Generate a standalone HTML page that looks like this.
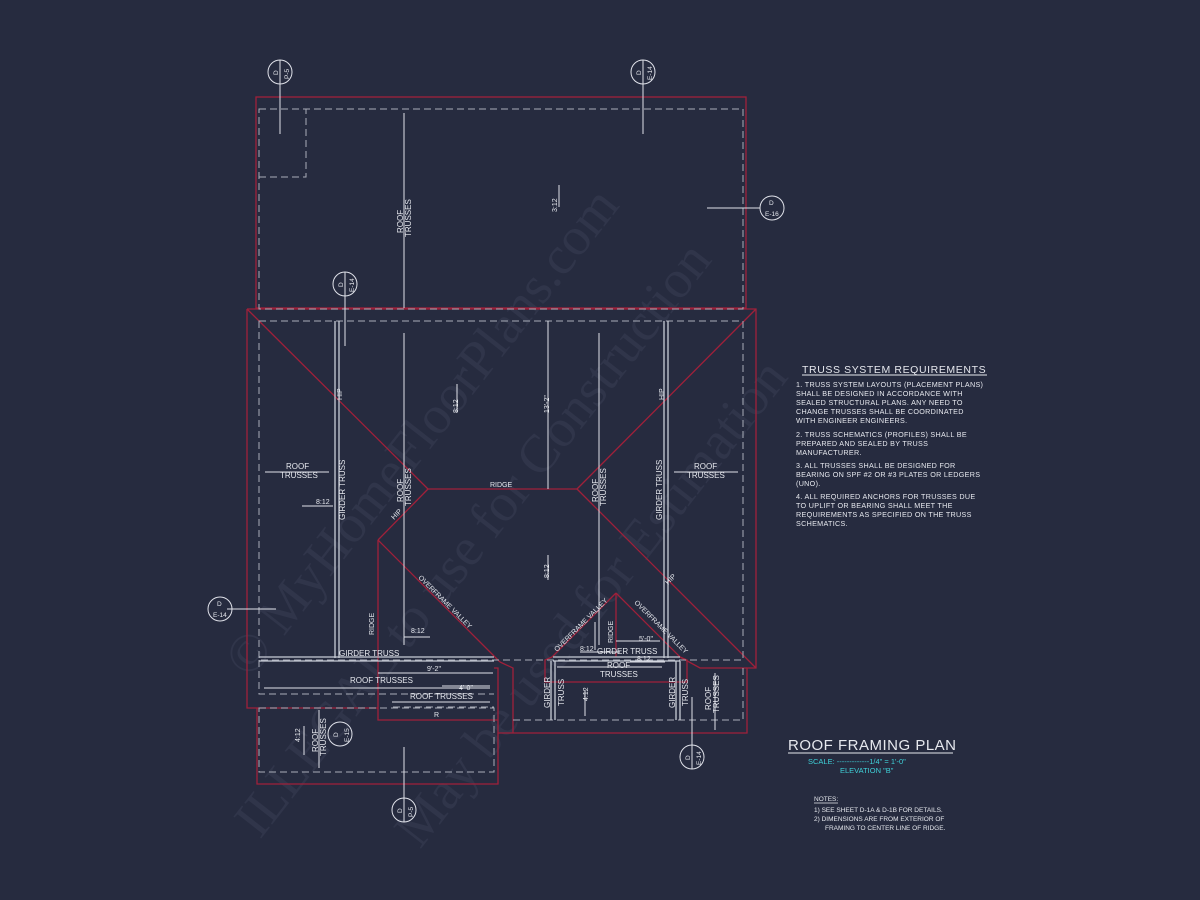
<!DOCTYPE html>
<html><head><meta charset="utf-8"><style>
html,body{margin:0;padding:0;background:#262b3f;}
svg{display:block}
text{font-family:"Liberation Sans",sans-serif;fill:#e6e8ee;}
</style></head><body>
<svg width="1200" height="900" viewBox="0 0 1200 900" xmlns="http://www.w3.org/2000/svg">
<rect width="1200" height="900" fill="#262b3f"/>

<!-- watermark -->
<g>
<text x="0" y="0" font-size="54" transform="translate(250,680) rotate(-52)" style="fill:#30354a;font-family:'Liberation Serif',serif">© MyHomeFloorPlans.com</text>
<text x="0" y="0" font-size="54" transform="translate(260,840) rotate(-52)" style="fill:#30354a;font-family:'Liberation Serif',serif">ILLEGAL to use for Construction</text>
<text x="0" y="0" font-size="54" transform="translate(420,850) rotate(-52)" style="fill:#30354a;font-family:'Liberation Serif',serif">May be used for Estimation</text>
</g>

<g fill="none" stroke-width="1.3">
<g stroke="#a0203a">
<rect x="256" y="97" width="490" height="211"/>
<polyline points="247,309 756,309 756,668 747,668 747,733 498,733 498,668 494,668"/>
<polyline points="247,309 247,708 378,708"/>
<polyline points="378,540 378,720 498,720"/>
<polyline points="257,708 257,784 498,784 498,733"/>
<line x1="247" y1="309" x2="428" y2="489"/>
<line x1="428" y1="489" x2="577" y2="489"/>
<line x1="577" y1="489" x2="756" y2="309"/>
<line x1="428" y1="489" x2="378" y2="540"/>
<line x1="378" y1="540" x2="500" y2="662"/>
<line x1="577" y1="489" x2="756" y2="668"/>
<polyline points="500,662 513,668 513,733"/>
<polyline points="616,593 552,657 545,660 545,682 687,682 687,660 680,657 616,593"/>
<line x1="616" y1="593" x2="616" y2="657"/>
<polyline points="680,657 700,668 747,668"/>
</g>
<g stroke="#a9adb8" stroke-dasharray="7,4" stroke-width="1">
<rect x="259" y="109" width="484" height="200"/>
<polyline points="259,177 306,177 306,109"/>
<rect x="259" y="321" width="484" height="339"/>
<polyline points="259,660 259,694 494,694"/>
<line x1="393" y1="707" x2="494" y2="707"/>
<rect x="259" y="708" width="235" height="64"/>
<polyline points="513,720 743,720 743,668"/>
</g>
<g stroke="#c8ccd6">
<line x1="335" y1="321" x2="335" y2="658"/><line x1="339" y1="321" x2="339" y2="658"/>
<line x1="664" y1="321" x2="664" y2="658"/><line x1="668" y1="321" x2="668" y2="658"/>
<line x1="259" y1="657" x2="494" y2="657"/><line x1="259" y1="661" x2="494" y2="661"/>
<line x1="553" y1="657" x2="680" y2="657"/><line x1="553" y1="661" x2="680" y2="661"/>
<line x1="551" y1="661" x2="551" y2="720"/><line x1="555" y1="661" x2="555" y2="720"/>
<line x1="676" y1="661" x2="676" y2="720"/><line x1="680" y1="661" x2="680" y2="720"/>
</g>
<g stroke="#e0e2ea" stroke-width="1">
<line x1="404" y1="113" x2="404" y2="308"/>
<line x1="404" y1="333" x2="404" y2="645"/>
<line x1="599" y1="333" x2="599" y2="645"/>
<line x1="548" y1="321" x2="548" y2="489"/>
<line x1="265" y1="472" x2="329" y2="472"/>
<line x1="674" y1="472" x2="738" y2="472"/>
<line x1="302" y1="506" x2="333" y2="506"/>
<line x1="404" y1="637" x2="430" y2="637"/>
<line x1="264" y1="688" x2="490" y2="688"/>
<line x1="378" y1="673" x2="493" y2="673"/>
<line x1="392" y1="702" x2="490" y2="702"/>
<line x1="442" y1="686" x2="490" y2="686"/>
<line x1="557" y1="667" x2="662" y2="667"/>
<line x1="630" y1="662" x2="665" y2="662"/>
<line x1="580" y1="652" x2="620" y2="652"/>
<line x1="616" y1="641" x2="660" y2="641"/>
<line x1="707" y1="208" x2="760" y2="208"/>
<line x1="643" y1="60" x2="643" y2="134"/>
<line x1="280" y1="60" x2="280" y2="134"/>
<line x1="345" y1="272" x2="345" y2="346"/>
<line x1="227" y1="609" x2="276" y2="609"/>
<line x1="404" y1="747" x2="404" y2="822"/>
<line x1="692" y1="697" x2="692" y2="769"/>
<line x1="319" y1="710" x2="319" y2="768"/>
<line x1="304" y1="726" x2="304" y2="755"/>
<line x1="715" y1="673" x2="715" y2="730"/>
<line x1="559" y1="185" x2="559" y2="207"/>
<line x1="457" y1="384" x2="457" y2="412"/>
<line x1="548" y1="555" x2="548" y2="580"/>
<line x1="585" y1="690" x2="585" y2="716"/>
<line x1="595" y1="622" x2="595" y2="650"/>
</g>
<g stroke="#e0e2ea" stroke-width="1">
<circle cx="280" cy="72" r="12"/><circle cx="643" cy="72" r="12"/>
<circle cx="345" cy="284" r="12"/><circle cx="772" cy="208" r="12"/>
<circle cx="220" cy="609" r="12"/><circle cx="404" cy="810" r="12"/>
<circle cx="692" cy="757" r="12"/><circle cx="340" cy="734" r="12"/>
</g>
</g>

<g font-size="6.5">
<text transform="translate(278,75) rotate(-90)">D</text><text transform="translate(289,79) rotate(-90)">P-5</text>
<text transform="translate(641,75) rotate(-90)">D</text><text transform="translate(652,80) rotate(-90)">E-14</text>
<text transform="translate(343,287) rotate(-90)">D</text><text transform="translate(354,292) rotate(-90)">E-14</text>
<text x="769" y="205">D</text><text x="765" y="216">E-16</text>
<text x="217" y="606">D</text><text x="213" y="617">E-14</text>
<text transform="translate(402,813) rotate(-90)">D</text><text transform="translate(413,817) rotate(-90)">P-5</text>
<text transform="translate(690,760) rotate(-90)">D</text><text transform="translate(701,765) rotate(-90)">E-14</text>
<text transform="translate(338,737) rotate(-90)">D</text><text transform="translate(349,742) rotate(-90)">E-15</text>
</g>
<g font-size="7">
<text transform="translate(403,233) rotate(-90)" font-size="8">ROOF</text>
<text transform="translate(411,237) rotate(-90)" font-size="8">TRUSSES</text>
<text transform="translate(557,212) rotate(-90)">3:12</text>
<text transform="translate(342,400) rotate(-90)">HIP</text>
<text transform="translate(664,400) rotate(-90)">HIP</text>
<text transform="translate(345,520) rotate(-90)" font-size="8">GIRDER TRUSS</text>
<text transform="translate(662,520) rotate(-90)" font-size="8">GIRDER TRUSS</text>
<text x="286" y="469" font-size="8">ROOF</text><text x="280" y="478" font-size="8">TRUSSES</text>
<text x="694" y="469" font-size="8">ROOF</text><text x="687" y="478" font-size="8">TRUSSES</text>
<text x="316" y="504">8:12</text>
<text transform="translate(403,502) rotate(-90)" font-size="8">ROOF</text>
<text transform="translate(411,506) rotate(-90)" font-size="8">TRUSSES</text>
<text transform="translate(598,502) rotate(-90)" font-size="8">ROOF</text>
<text transform="translate(606,506) rotate(-90)" font-size="8">TRUSSES</text>
<text x="490" y="487">RIDGE</text>
<text transform="translate(458,413) rotate(-90)">8:12</text>
<text transform="translate(549,413) rotate(-90)">13'-2"</text>
<text transform="translate(549,578) rotate(-90)">8:12</text>
<text transform="translate(394,520) rotate(-45)">HIP</text>
<text transform="translate(668,585) rotate(-45)">HIP</text>
<text transform="translate(418,578) rotate(45)">OVERFRAME VALLEY</text>
<text transform="translate(557,652) rotate(-45)">OVERFRAME VALLEY</text>
<text transform="translate(634,603) rotate(45)">OVERFRAME VALLEY</text>
<text transform="translate(374,635) rotate(-90)">RIDGE</text>
<text transform="translate(613,643) rotate(-90)">RIDGE</text>
<text x="411" y="633">8:12</text>
<text x="339" y="656" font-size="8">GIRDER TRUSS</text>
<text x="597" y="654" font-size="8">GIRDER TRUSS</text>
<text x="580" y="651">8:12</text>
<text x="639" y="641">5'-0"</text>
<text x="637" y="661">8:12</text>
<text x="427" y="671">9'-2"</text>
<text x="350" y="683" font-size="8">ROOF TRUSSES</text>
<text x="459" y="690">4'-0"</text>
<text x="410" y="699" font-size="8">ROOF TRUSSES</text>
<text x="434" y="717">R</text>
<text x="607" y="668" font-size="8">ROOF</text><text x="600" y="677" font-size="8">TRUSSES</text>
<text transform="translate(550,708) rotate(-90)" font-size="8">GIRDER</text>
<text transform="translate(564,706) rotate(-90)" font-size="8">TRUSS</text>
<text transform="translate(675,708) rotate(-90)" font-size="8">GIRDER</text>
<text transform="translate(688,706) rotate(-90)" font-size="8">TRUSS</text>
<text transform="translate(588,701) rotate(-90)">4:12</text>
<text transform="translate(711,710) rotate(-90)" font-size="8">ROOF</text>
<text transform="translate(719,713) rotate(-90)" font-size="8">TRUSSES</text>
<text transform="translate(300,742) rotate(-90)">4:12</text>
<text transform="translate(318,752) rotate(-90)" font-size="8">ROOF</text>
<text transform="translate(326,756) rotate(-90)" font-size="8">TRUSSES</text>
</g>

<g font-size="7.2" letter-spacing="0.3">
<text x="802" y="373" font-size="10.5" letter-spacing="0.6">TRUSS SYSTEM REQUIREMENTS</text>
<line x1="802" y1="375" x2="987" y2="375" stroke="#e6e8ee" stroke-width="1"/>
<text x="796" y="387">1. TRUSS SYSTEM LAYOUTS (PLACEMENT PLANS)</text>
<text x="796" y="396">SHALL BE DESIGNED IN ACCORDANCE WITH</text>
<text x="796" y="405">SEALED STRUCTURAL PLANS. ANY NEED TO</text>
<text x="796" y="414">CHANGE TRUSSES SHALL BE COORDINATED</text>
<text x="796" y="423">WITH ENGINEER ENGINEERS.</text>
<text x="796" y="437">2. TRUSS SCHEMATICS (PROFILES) SHALL BE</text>
<text x="796" y="446">PREPARED AND SEALED BY TRUSS</text>
<text x="796" y="455">MANUFACTURER.</text>
<text x="796" y="468">3. ALL TRUSSES SHALL BE DESIGNED FOR</text>
<text x="796" y="477">BEARING ON SPF #2 OR #3 PLATES OR LEDGERS</text>
<text x="796" y="486">(UNO).</text>
<text x="796" y="499">4. ALL REQUIRED ANCHORS FOR TRUSSES DUE</text>
<text x="796" y="508">TO UPLIFT OR BEARING SHALL MEET THE</text>
<text x="796" y="517">REQUIREMENTS AS SPECIFIED ON THE TRUSS</text>
<text x="796" y="526">SCHEMATICS.</text>
</g>
<text x="788" y="750" font-size="15" letter-spacing="0.5">ROOF FRAMING PLAN</text>
<line x1="788" y1="753" x2="953" y2="753" stroke="#e6e8ee" stroke-width="1"/>
<text x="808" y="764" font-size="7.5" style="fill:#3fd0d8">SCALE: -------------1/4" = 1'-0"</text>
<text x="840" y="773" font-size="7.5" style="fill:#3fd0d8">ELEVATION "B"</text>
<g font-size="6.5">
<text x="814" y="801">NOTES:</text>
<line x1="814" y1="803" x2="838" y2="803" stroke="#e6e8ee" stroke-width="0.8"/>
<text x="814" y="812">1)  SEE SHEET D-1A &amp; D-1B FOR DETAILS.</text>
<text x="814" y="821">2)  DIMENSIONS ARE FROM EXTERIOR OF</text>
<text x="825" y="830">FRAMING TO CENTER LINE OF RIDGE.</text>
</g>
</svg>
</body></html>
